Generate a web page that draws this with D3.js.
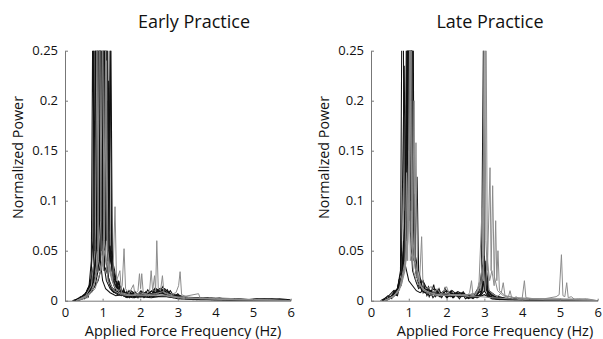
<!DOCTYPE html>
<html><head><meta charset="utf-8">
<script src="https://cdn.jsdelivr.net/npm/d3@7"></script>
<style>
html,body{margin:0;padding:0;background:#fff;}
svg text{font-family:"Open Sans",sans-serif;fill:#111;}
</style></head>
<body>
<svg id="chart" width="603" height="339"></svg>
<script>
// ---------- DATA ----------
const panelTitles = ["Early Practice", "Late Practice"];
const xLabel = "Applied Force Frequency (Hz)";
const yLabel = "Normalized Power";
const xTicks = [0, 1, 2, 3, 4, 5, 6];
const yTicks = [0, 0.05, 0.1, 0.15, 0.2, 0.25];
const yTickLabels = ["0", "0.05", "0.1", "0.15", "0.2", "0.25"];

// Early practice spectra (frequency Hz, normalized power) - dark traces
const earlyDark = [
 [[0.2,0],[0.35,0.002],[0.5,0.004],[0.6,0.008],[0.68,0.016],[0.74,0.06],[0.78,0.42],[0.82,0.12],[0.86,0.05],[0.9,0.3],[0.94,0.04],[1.0,0.02],[1.08,0.012],[1.2,0.008],[1.35,0.005],[1.5,0.006],[1.65,0.003],[1.8,0.005],[2.0,0.004],[2.2,0.006],[2.45,0.009],[2.6,0.007],[2.8,0.004],[3.0,0.003],[3.3,0.002],[3.6,0.001],[4.2,0.001],[5.0,0.0005],[6,0]],
 [[0.25,0],[0.45,0.003],[0.6,0.01],[0.7,0.022],[0.76,0.035],[0.8,0.09],[0.84,0.55],[0.88,0.07],[0.92,0.03],[0.98,0.18],[1.02,0.04],[1.1,0.02],[1.2,0.012],[1.3,0.008],[1.45,0.01],[1.6,0.006],[1.75,0.008],[1.9,0.004],[2.1,0.006],[2.3,0.005],[2.5,0.011],[2.65,0.006],[2.9,0.004],[3.1,0.003],[3.5,0.002],[4.0,0.001],[4.8,0.001],[6,0]],
 [[0.3,0],[0.5,0.005],[0.62,0.012],[0.72,0.02],[0.8,0.03],[0.86,0.08],[0.9,0.6],[0.94,0.1],[0.98,0.06],[1.02,0.35],[1.06,0.05],[1.12,0.03],[1.2,0.015],[1.28,0.012],[1.4,0.007],[1.55,0.005],[1.7,0.009],[1.85,0.004],[2.0,0.008],[2.2,0.004],[2.4,0.01],[2.55,0.012],[2.75,0.006],[3.0,0.005],[3.2,0.002],[3.7,0.002],[4.3,0.001],[6,0]],
 [[0.3,0],[0.55,0.004],[0.7,0.012],[0.82,0.025],[0.9,0.05],[0.96,0.45],[1.0,0.09],[1.05,0.07],[1.1,0.4],[1.14,0.06],[1.2,0.03],[1.26,0.02],[1.35,0.01],[1.5,0.008],[1.65,0.004],[1.8,0.006],[2.0,0.005],[2.15,0.007],[2.35,0.005],[2.5,0.009],[2.7,0.008],[2.9,0.004],[3.2,0.003],[3.6,0.002],[3.8,0.003],[3.9,0.001],[4.1,0.003],[4.3,0.001],[4.5,0.002],[4.8,0.001],[5.1,0.002],[5.4,0.001],[5.7,0.002],[6,0.001]],
 [[0.35,0],[0.6,0.006],[0.75,0.015],[0.85,0.03],[0.92,0.05],[1.0,0.145],[1.03,0.06],[1.07,0.5],[1.11,0.08],[1.16,0.05],[1.22,0.04],[1.3,0.015],[1.4,0.012],[1.55,0.006],[1.7,0.004],[1.9,0.007],[2.1,0.004],[2.3,0.006],[2.6,0.01],[2.8,0.005],[3.0,0.006],[3.3,0.002],[3.8,0.002],[4.4,0.001],[6,0]],
 [[0.3,0],[0.55,0.005],[0.72,0.01],[0.88,0.02],[0.98,0.035],[1.05,0.06],[1.12,0.38],[1.16,0.07],[1.2,0.27],[1.24,0.05],[1.3,0.02],[1.38,0.012],[1.5,0.01],[1.62,0.005],[1.8,0.006],[1.95,0.005],[2.1,0.008],[2.3,0.004],[2.5,0.007],[2.7,0.01],[2.85,0.005],[3.1,0.004],[3.4,0.002],[3.9,0.001],[4.7,0.001],[6,0]],
 [[0.2,0],[0.4,0.002],[0.55,0.007],[0.64,0.015],[0.7,0.04],[0.74,0.3],[0.78,0.05],[0.84,0.06],[0.88,0.5],[0.92,0.07],[0.98,0.09],[1.04,0.03],[1.1,0.09],[1.15,0.02],[1.25,0.01],[1.4,0.006],[1.6,0.005],[1.8,0.003],[2.0,0.004],[2.3,0.003],[2.6,0.005],[3.0,0.002],[3.5,0.001],[4.5,0.001],[6,0]],
 [[0.3,0],[0.5,0.004],[0.65,0.01],[0.78,0.02],[0.9,0.04],[0.96,0.07],[1.04,0.3],[1.08,0.1],[1.12,0.09],[1.16,0.22],[1.2,0.05],[1.26,0.035],[1.32,0.025],[1.4,0.015],[1.48,0.01],[1.6,0.007],[1.75,0.01],[1.9,0.006],[2.05,0.009],[2.2,0.007],[2.4,0.012],[2.55,0.01],[2.7,0.007],[2.9,0.005],[3.1,0.003],[3.4,0.002],[3.9,0.002],[4.4,0.001],[5.1,0.001],[6,0]],
 [[0.25,0],[0.45,0.003],[0.6,0.008],[0.7,0.018],[0.76,0.03],[0.82,0.38],[0.86,0.06],[0.9,0.08],[0.94,0.28],[0.98,0.05],[1.04,0.035],[1.1,0.03],[1.18,0.02],[1.28,0.01],[1.4,0.008],[1.6,0.005],[1.85,0.004],[2.1,0.006],[2.4,0.004],[2.7,0.004],[3.0,0.003],[3.6,0.002],[4.2,0.001],[6,0]],
 [[0.35,0],[0.55,0.003],[0.7,0.01],[0.8,0.015],[0.88,0.03],[0.94,0.06],[1.0,0.22],[1.04,0.05],[1.1,0.07],[1.14,0.15],[1.18,0.04],[1.24,0.05],[1.28,0.03],[1.34,0.02],[1.44,0.01],[1.58,0.008],[1.72,0.005],[1.88,0.006],[2.02,0.004],[2.2,0.006],[2.45,0.008],[2.65,0.012],[2.8,0.006],[3.0,0.004],[3.55,0.003],[4.1,0.002],[4.8,0.001],[6,0]],
 [[0.3,0],[0.5,0.006],[0.58,0.003],[0.66,0.014],[0.72,0.01],[0.78,0.04],[0.84,0.03],[0.9,0.07],[0.95,0.05],[1.0,0.09],[1.06,0.08],[1.12,0.2],[1.16,0.06],[1.22,0.26],[1.26,0.04],[1.32,0.03],[1.38,0.012],[1.44,0.018],[1.5,0.006],[1.56,0.012],[1.62,0.004],[1.7,0.01],[1.78,0.004],[1.86,0.009],[1.94,0.003],[2.02,0.01],[2.1,0.004],[2.2,0.011],[2.3,0.005],[2.4,0.013],[2.5,0.008],[2.6,0.014],[2.7,0.006],[2.8,0.01],[2.9,0.004],[3.0,0.007],[3.1,0.002],[3.3,0.003],[3.5,0.001],[3.7,0.002],[4.0,0.001],[4.4,0.002],[4.9,0.001],[5.3,0.002],[5.8,0.001],[6,0]],
 [[0.25,0],[0.42,0.004],[0.52,0.002],[0.6,0.012],[0.66,0.008],[0.72,0.025],[0.77,0.02],[0.82,0.06],[0.87,0.04],[0.93,0.11],[0.97,0.05],[1.02,0.15],[1.06,0.06],[1.1,0.12],[1.15,0.05],[1.2,0.055],[1.25,0.03],[1.3,0.02],[1.36,0.025],[1.42,0.008],[1.48,0.014],[1.55,0.005],[1.63,0.009],[1.72,0.003],[1.8,0.008],[1.9,0.005],[2.0,0.009],[2.1,0.003],[2.2,0.007],[2.32,0.01],[2.42,0.006],[2.52,0.012],[2.62,0.007],[2.72,0.011],[2.82,0.004],[2.92,0.006],[3.05,0.002],[3.2,0.004],[3.4,0.001],[3.6,0.002],[3.9,0.003],[4.2,0.001],[4.6,0.002],[5.0,0.001],[5.5,0.002],[6,0]],
 [[0.3,0],[0.48,0.003],[0.56,0.008],[0.62,0.004],[0.68,0.02],[0.74,0.015],[0.8,0.05],[0.86,0.1],[0.9,0.06],[0.96,0.3],[1.0,0.07],[1.05,0.09],[1.1,0.06],[1.14,0.09],[1.18,0.035],[1.24,0.045],[1.3,0.018],[1.36,0.012],[1.42,0.02],[1.48,0.007],[1.56,0.01],[1.64,0.004],[1.74,0.007],[1.84,0.003],[1.95,0.006],[2.05,0.004],[2.15,0.009],[2.25,0.004],[2.35,0.008],[2.48,0.006],[2.58,0.01],[2.68,0.005],[2.78,0.008],[2.88,0.003],[3.0,0.005],[3.2,0.002],[3.5,0.002],[4.0,0.001],[6,0]]
];
// Early practice - lighter traces
const earlyLight = [
 [[0.3,0],[0.55,0.004],[0.7,0.01],[0.8,0.02],[0.87,0.05],[0.92,0.32],[0.96,0.05],[1.02,0.03],[1.08,0.25],[1.12,0.04],[1.2,0.03],[1.27,0.02],[1.33,0.094],[1.37,0.02],[1.46,0.03],[1.5,0.008],[1.7,0.006],[1.9,0.005],[2.2,0.005],[2.5,0.006],[2.8,0.004],[3.2,0.002],[3.8,0.002],[4.5,0.001],[6,0]],
 [[0.3,0],[0.6,0.005],[0.75,0.012],[0.85,0.03],[0.95,0.08],[1.0,0.29],[1.04,0.06],[1.1,0.04],[1.18,0.03],[1.25,0.02],[1.35,0.012],[1.45,0.01],[1.52,0.015],[1.57,0.052],[1.61,0.012],[1.7,0.007],[1.82,0.016],[1.86,0.006],[2.0,0.006],[2.3,0.005],[2.6,0.006],[3.0,0.003],[3.55,0.007],[3.6,0.002],[4.0,0.002],[4.6,0.001],[5.4,0.001],[6,0]],
 [[0.35,0],[0.6,0.004],[0.8,0.012],[0.95,0.03],[1.05,0.06],[1.1,0.24],[1.14,0.05],[1.2,0.03],[1.3,0.015],[1.45,0.008],[1.6,0.006],[1.8,0.005],[2.0,0.008],[2.15,0.006],[2.25,0.01],[2.29,0.03],[2.33,0.01],[2.38,0.025],[2.41,0.01],[2.44,0.06],[2.48,0.012],[2.54,0.01],[2.59,0.025],[2.63,0.008],[2.75,0.006],[2.95,0.004],[3.2,0.003],[3.7,0.002],[4.3,0.001],[6,0]],
 [[0.3,0],[0.55,0.005],[0.7,0.015],[0.8,0.05],[0.85,0.26],[0.89,0.04],[0.95,0.03],[1.05,0.05],[1.15,0.02],[1.3,0.01],[1.5,0.006],[1.7,0.005],[1.85,0.006],[1.94,0.01],[1.98,0.027],[2.01,0.012],[2.04,0.027],[2.08,0.008],[2.2,0.006],[2.4,0.007],[2.6,0.009],[2.8,0.006],[2.95,0.008],[3.02,0.015],[3.06,0.029],[3.1,0.006],[3.3,0.003],[3.6,0.002],[4.0,0.003],[4.5,0.002],[5.0,0.001],[6,0]]
];

// Late practice - dark traces
const lateDark = [
 [[0.3,0],[0.5,0.003],[0.6,0.008],[0.7,0.012],[0.78,0.03],[0.84,0.45],[0.88,0.04],[0.94,0.03],[1.0,0.02],[1.1,0.015],[1.2,0.01],[1.3,0.008],[1.45,0.012],[1.6,0.006],[1.75,0.01],[1.9,0.005],[2.1,0.008],[2.3,0.004],[2.5,0.005],[2.8,0.003],[3.0,0.006],[3.2,0.002],[3.6,0.001],[4.5,0.001],[6,0]],
 [[0.35,0],[0.55,0.005],[0.7,0.012],[0.8,0.03],[0.88,0.235],[0.92,0.04],[0.96,0.06],[1.0,0.5],[1.04,0.07],[1.1,0.03],[1.18,0.02],[1.26,0.012],[1.35,0.015],[1.5,0.008],[1.68,0.012],[1.85,0.006],[2.0,0.01],[2.2,0.006],[2.4,0.008],[2.6,0.004],[2.9,0.005],[3.0,0.01],[3.1,0.004],[3.5,0.002],[4.2,0.001],[6,0]],
 [[0.4,0],[0.6,0.006],[0.75,0.015],[0.85,0.03],[0.95,0.08],[1.02,0.6],[1.05,0.15],[1.08,0.55],[1.12,0.06],[1.18,0.03],[1.25,0.02],[1.35,0.01],[1.5,0.012],[1.62,0.006],[1.8,0.009],[1.95,0.005],[2.15,0.01],[2.3,0.005],[2.45,0.007],[2.7,0.004],[2.95,0.02],[3.0,0.045],[3.05,0.015],[3.2,0.004],[3.5,0.002],[4.0,0.001],[6,0]],
 [[0.3,0],[0.55,0.004],[0.7,0.01],[0.82,0.025],[0.92,0.06],[0.99,0.55],[1.02,0.12],[1.06,0.5],[1.1,0.09],[1.14,0.107],[1.18,0.03],[1.24,0.02],[1.32,0.015],[1.42,0.01],[1.55,0.008],[1.7,0.006],[1.88,0.008],[2.05,0.005],[2.25,0.007],[2.4,0.004],[2.6,0.006],[2.85,0.008],[2.97,0.04],[3.02,0.02],[3.08,0.01],[3.3,0.003],[3.7,0.002],[4.4,0.001],[6,0]],
 [[0.35,0],[0.6,0.005],[0.75,0.012],[0.86,0.03],[0.96,0.09],[1.04,0.58],[1.08,0.1],[1.12,0.05],[1.16,0.04],[1.22,0.124],[1.26,0.03],[1.32,0.02],[1.4,0.018],[1.5,0.01],[1.65,0.008],[1.78,0.005],[1.95,0.007],[2.1,0.004],[2.3,0.006],[2.5,0.004],[2.75,0.005],[2.92,0.01],[2.975,0.26],[3.0,0.03],[3.06,0.03],[3.12,0.01],[3.3,0.005],[3.6,0.002],[4.1,0.001],[5.0,0.001],[6,0]],
 [[0.4,0],[0.6,0.004],[0.72,0.01],[0.82,0.02],[0.9,0.05],[0.96,0.42],[1.0,0.1],[1.05,0.12],[1.1,0.48],[1.14,0.05],[1.2,0.03],[1.3,0.015],[1.42,0.008],[1.58,0.01],[1.75,0.005],[1.92,0.006],[2.1,0.005],[2.3,0.009],[2.5,0.005],[2.7,0.003],[2.9,0.006],[3.0,0.03],[3.04,0.012],[3.15,0.006],[3.4,0.003],[3.8,0.001],[4.6,0.001],[6,0]],
 [[0.25,0],[0.45,0.004],[0.6,0.01],[0.66,0.006],[0.72,0.015],[0.8,0.02],[0.86,0.05],[0.92,0.1],[0.98,0.3],[1.01,0.08],[1.07,0.3],[1.11,0.07],[1.16,0.04],[1.22,0.025],[1.28,0.015],[1.38,0.02],[1.44,0.008],[1.52,0.014],[1.58,0.006],[1.66,0.016],[1.72,0.005],[1.8,0.012],[1.88,0.004],[1.96,0.013],[2.04,0.005],[2.12,0.01],[2.2,0.004],[2.28,0.008],[2.36,0.004],[2.44,0.009],[2.55,0.003],[2.7,0.004],[2.9,0.006],[3.0,0.02],[3.1,0.005],[3.3,0.002],[3.7,0.001],[6,0]],
 [[0.3,0],[0.45,0.005],[0.55,0.002],[0.62,0.01],[0.68,0.006],[0.74,0.02],[0.8,0.015],[0.86,0.06],[0.9,0.04],[0.94,0.12],[0.98,0.08],[1.02,0.3],[1.06,0.09],[1.1,0.2],[1.14,0.05],[1.2,0.04],[1.26,0.015],[1.32,0.02],[1.38,0.008],[1.46,0.013],[1.54,0.004],[1.62,0.011],[1.7,0.004],[1.78,0.009],[1.86,0.003],[1.94,0.008],[2.02,0.003],[2.1,0.007],[2.18,0.003],[2.26,0.006],[2.34,0.002],[2.42,0.007],[2.5,0.002],[2.6,0.004],[2.7,0.002],[2.8,0.005],[2.88,0.012],[2.94,0.008],[2.98,0.035],[3.02,0.012],[3.06,0.025],[3.1,0.006],[3.2,0.003],[3.4,0.001],[3.7,0.002],[4.2,0.001],[4.8,0.001],[6,0]],
 [[0.35,0],[0.5,0.003],[0.6,0.007],[0.7,0.005],[0.78,0.018],[0.84,0.03],[0.9,0.09],[0.95,0.06],[1.0,0.2],[1.04,0.1],[1.08,0.28],[1.12,0.04],[1.16,0.06],[1.2,0.025],[1.26,0.02],[1.34,0.01],[1.4,0.015],[1.48,0.005],[1.56,0.01],[1.64,0.003],[1.72,0.007],[1.82,0.004],[1.9,0.009],[2.0,0.003],[2.08,0.008],[2.16,0.003],[2.24,0.006],[2.34,0.004],[2.46,0.006],[2.58,0.002],[2.7,0.004],[2.82,0.003],[2.92,0.008],[2.97,0.02],[3.0,0.01],[3.04,0.04],[3.08,0.008],[3.2,0.002],[3.5,0.001],[4.0,0.001],[6,0]]
];
// Late practice - lighter traces
const lateLight = [
 [[0.35,0],[0.6,0.005],[0.75,0.012],[0.85,0.03],[0.9,0.04],[0.94,0.128],[0.97,0.04],[1.03,0.3],[1.07,0.06],[1.12,0.03],[1.2,0.02],[1.28,0.015],[1.34,0.064],[1.38,0.01],[1.45,0.012],[1.6,0.014],[1.66,0.006],[1.75,0.012],[1.85,0.006],[2.0,0.014],[2.08,0.006],[2.3,0.006],[2.6,0.004],[2.9,0.004],[3.2,0.003],[3.6,0.002],[4.2,0.001],[6,0]],
 [[0.35,0],[0.6,0.004],[0.8,0.015],[0.92,0.04],[1.0,0.08],[1.06,0.35],[1.1,0.07],[1.15,0.04],[1.19,0.158],[1.23,0.03],[1.3,0.015],[1.45,0.01],[1.7,0.006],[2.0,0.007],[2.3,0.005],[2.6,0.006],[2.8,0.008],[2.9,0.015],[2.96,0.05],[3.0,0.35],[3.04,0.06],[3.08,0.03],[3.15,0.133],[3.18,0.03],[3.22,0.115],[3.26,0.025],[3.35,0.01],[3.5,0.005],[3.8,0.003],[4.3,0.002],[5.0,0.002],[5.5,0.001],[6,0]],
 [[0.4,0],[0.65,0.006],[0.8,0.015],[0.9,0.03],[0.98,0.06],[1.05,0.2],[1.1,0.05],[1.2,0.025],[1.35,0.012],[1.55,0.008],[1.8,0.006],[2.1,0.005],[2.4,0.006],[2.7,0.006],[2.85,0.01],[2.94,0.093],[2.98,0.02],[3.04,0.32],[3.08,0.04],[3.14,0.02],[3.2,0.03],[3.26,0.015],[3.3,0.08],[3.33,0.02],[3.36,0.05],[3.4,0.01],[3.55,0.005],[3.8,0.003],[4.2,0.002],[4.6,0.002],[4.9,0.004],[4.98,0.006],[5.04,0.046],[5.08,0.005],[5.13,0.004],[5.18,0.018],[5.22,0.003],[5.3,0.004],[5.4,0.001],[5.7,0.002],[6,0]],
 [[0.35,0],[0.6,0.004],[0.75,0.01],[0.88,0.03],[0.95,0.06],[1.0,0.15],[1.04,0.04],[1.1,0.05],[1.14,0.2],[1.17,0.04],[1.25,0.02],[1.4,0.01],[1.6,0.006],[1.85,0.005],[2.1,0.006],[2.4,0.005],[2.55,0.005],[2.61,0.008],[2.66,0.02],[2.7,0.005],[2.78,0.006],[2.86,0.018],[2.9,0.01],[2.98,0.03],[3.03,0.01],[3.08,0.047],[3.12,0.01],[3.25,0.006],[3.35,0.004],[3.45,0.008],[3.5,0.018],[3.55,0.004],[3.63,0.003],[3.68,0.01],[3.73,0.002],[3.85,0.004],[3.9,0.001],[4.0,0.002],[4.06,0.02],[4.1,0.003],[4.3,0.002],[4.6,0.001],[5.0,0.001],[5.5,0.002],[6,0]]
];

// ---------- DRAW ----------
const svg = d3.select("#chart");
const panels = [
  {title: panelTitles[0], dark: earlyDark, light: earlyLight, x0: 65, x1: 290.7, titleX: 194, yLabX: 23, xLabX: 183},
  {title: panelTitles[1], dark: lateDark, light: lateLight, x0: 371, x1: 597.7, titleX: 490, yLabX: 329, xLabX: 495}
];
const yTop = 50.7, yBot = 300.7;

panels.forEach((p, i) => {
  const x = d3.scaleLinear().domain([0, 6]).range([p.x0, p.x1]);
  const y = d3.scaleLinear().domain([0, 0.25]).range([yBot, yTop]);
  const g = svg.append("g");

  g.append("clipPath").attr("id", "clip" + i)
    .append("rect").attr("x", p.x0).attr("y", yTop).attr("width", p.x1 - p.x0).attr("height", yBot - yTop);

  const line = d3.line().x(d => x(d[0])).y(d => y(d[1]));
  const plot = g.append("g").attr("clip-path", `url(#clip${i})`);

  plot.selectAll("path.dark").data(p.dark).join("path")
    .attr("class", "dark").attr("d", line)
    .attr("fill", "none").attr("stroke", "#111").attr("stroke-width", 1.05);
  plot.selectAll("path.light").data(p.light).join("path")
    .attr("class", "light").attr("d", line)
    .attr("fill", "none").attr("stroke", "#8c8c8c").attr("stroke-width", 1);

  // axes
  const yAxis = d3.axisLeft(y).tickValues(yTicks).tickFormat((d, k) => yTickLabels[k])
    .tickSizeInner(-3).tickSizeOuter(0).tickPadding(7);
  const ya = g.append("g").attr("transform", `translate(${p.x0},0)`).call(yAxis);
  const xAxis = d3.axisBottom(x).tickValues(xTicks).tickFormat(d3.format("d"))
    .tickSizeInner(-2).tickSizeOuter(0).tickPadding(7);
  const xa = g.append("g").attr("transform", `translate(0,${yBot})`).call(xAxis);
  [ya, xa].forEach(a => {
    a.select(".domain").attr("stroke", "#777").attr("stroke-width", 1);
    a.selectAll(".tick line").attr("stroke", "#777");
    a.selectAll("text").style("font-family", '"Open Sans",sans-serif').style("font-size", "13px").attr("fill", "#111");
  });

  g.append("text").attr("x", p.titleX).attr("y", 27.5).attr("text-anchor", "middle")
    .style("font-size", "18px").text(p.title);
  g.append("text").attr("transform", `translate(${p.yLabX},${157.5}) rotate(-90)`)
    .attr("text-anchor", "middle").style("font-size", "14.3px").text(yLabel);
  g.append("text").attr("x", p.xLabX).attr("y", 335.5).attr("text-anchor", "middle")
    .style("font-size", "14.5px").text(xLabel);
});
</script>
</body></html>
